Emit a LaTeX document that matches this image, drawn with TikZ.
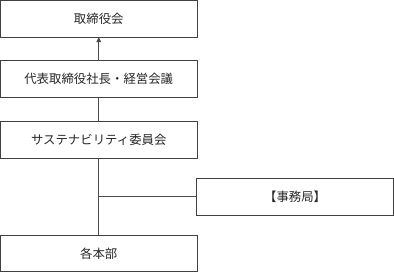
\documentclass[tikz,border=0pt]{standalone}
\usepackage{fontspec}
\newfontfamily\jp{Noto Sans CJK JP}
\usetikzlibrary{arrows.meta}
\begin{document}
\begin{tikzpicture}[x=1pt,y=1pt,
  orgbox/.style={draw=black!75, line width=0.9pt, minimum width=196.5pt, minimum height=36.7pt,
    inner sep=0pt, outer sep=0pt, font=\jp\fontsize{12.4}{14}\selectfont, text=black!85},
  conn/.style={draw=black!70, line width=0.9pt}]
\useasboundingbox (0,0) rectangle (394,273);
\node[orgbox] (b1) at (98.75,254.1) {取締役会};
\node[orgbox] (b2) at (98.75,193.8) {代表取締役社長・経営会議};
\node[orgbox] (b3) at (98.75,133.1) {サステナビリティ委員会};
\node[orgbox, minimum width=196.6pt] (b4) at (295.1,76.2) {【事務局】};
\node[orgbox] (b5) at (98.75,19.4) {各本部};
\coordinate (j) at (b3.south |- b4.west);
\draw[conn, -{Triangle[width=5pt,length=5pt]}] (b2.north) -- (b1.south);
\draw[conn] (b2.south) -- (b3.north);
\draw[conn] (b3.south) -- (b5.north);
\draw[conn] (j) -- (b4.west);
\end{tikzpicture}
\end{document}
